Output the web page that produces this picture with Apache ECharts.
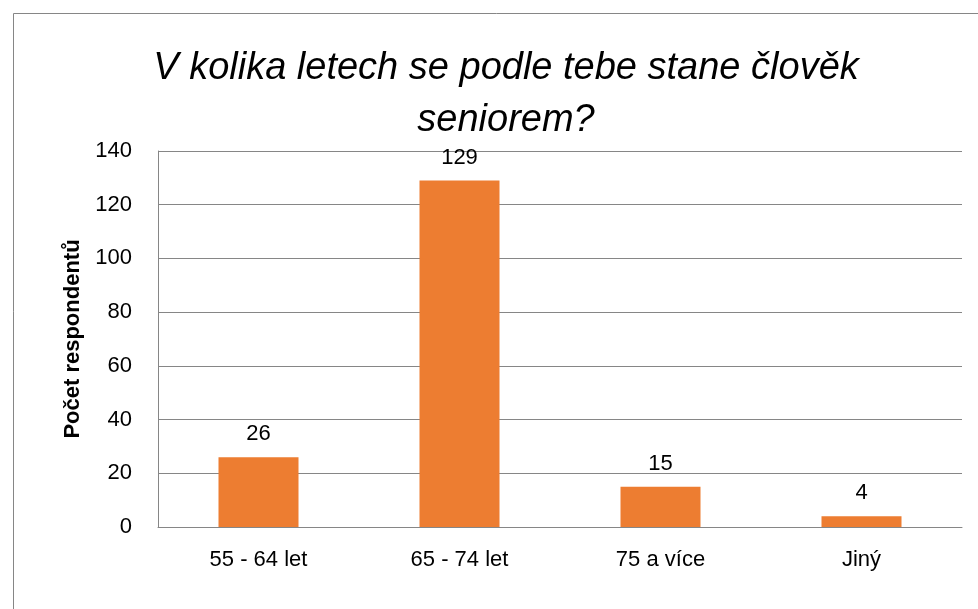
<!DOCTYPE html>
<html>
<head>
<meta charset="utf-8">
<script src="https://cdn.jsdelivr.net/npm/echarts@6/dist/echarts.min.js"></script>
<style>
  html, body { margin: 0; padding: 0; background: #fff; }
  #chart1 { width: 978px; height: 609px; }
</style>
</head>
<body>
<div id="chart1"></div>
<script>
var categories = ['55 - 64 let', '65 - 74 let', '75 a více', 'Jiný'];
var counts = [26, 129, 15, 4];
var yTicks = [0, 20, 40, 60, 80, 100, 120, 140];

var font = 'Liberation Sans';

var option = {
    animation: false,
    title: {
        text: 'V kolika letech se podle tebe stane člověk\nseniorem?',
        left: 501,
        top: 37,
        textAlign: 'center',
        textStyle: {
            fontFamily: font,
            fontStyle: 'italic',
            fontWeight: 'normal',
            fontSize: 38,
            lineHeight: 52,
            color: '#000'
        }
    },
    graphic: [{
        type: 'rect',
        shape: { x: 13.5, y: 13.5, width: 1000, height: 700 },
        style: { fill: 'none', stroke: '#868686', lineWidth: 1 },
        silent: true
    }],
    grid: {
        left: 158,
        right: 16,
        top: 151,
        bottom: 82
    },
    xAxis: {
        type: 'category',
        data: categories,
        axisTick: { show: false },
        axisLine: { lineStyle: { color: '#868686', width: 1 } },
        axisLabel: { fontFamily: font, fontSize: 22, color: '#000', margin: 22 }
    },
    yAxis: {
        type: 'value',
        min: yTicks[0],
        max: yTicks[yTicks.length - 1],
        interval: 20,
        name: 'Počet respondentů',
        nameLocation: 'middle',
        nameGap: 73,
        nameTextStyle: { fontFamily: font, fontSize: 22, fontWeight: 'bold', color: '#000' },
        axisLine: { show: true, lineStyle: { color: '#868686', width: 1 } },
        axisTick: { show: false },
        splitLine: { lineStyle: { color: '#868686', width: 1 } },
        axisLabel: { fontFamily: font, fontSize: 22, color: '#000', margin: 26 }
    },
    series: [{
        type: 'bar',
        data: counts,
        barWidth: 80,
        itemStyle: { color: '#ED7D31' },
        label: {
            show: true,
            position: 'top',
            distance: 12,
            fontFamily: font,
            fontSize: 22,
            color: '#000'
        }
    }]
};

var myChart = echarts.init(document.getElementById('chart1'));
myChart.setOption(option);
</script>
</body>
</html>
